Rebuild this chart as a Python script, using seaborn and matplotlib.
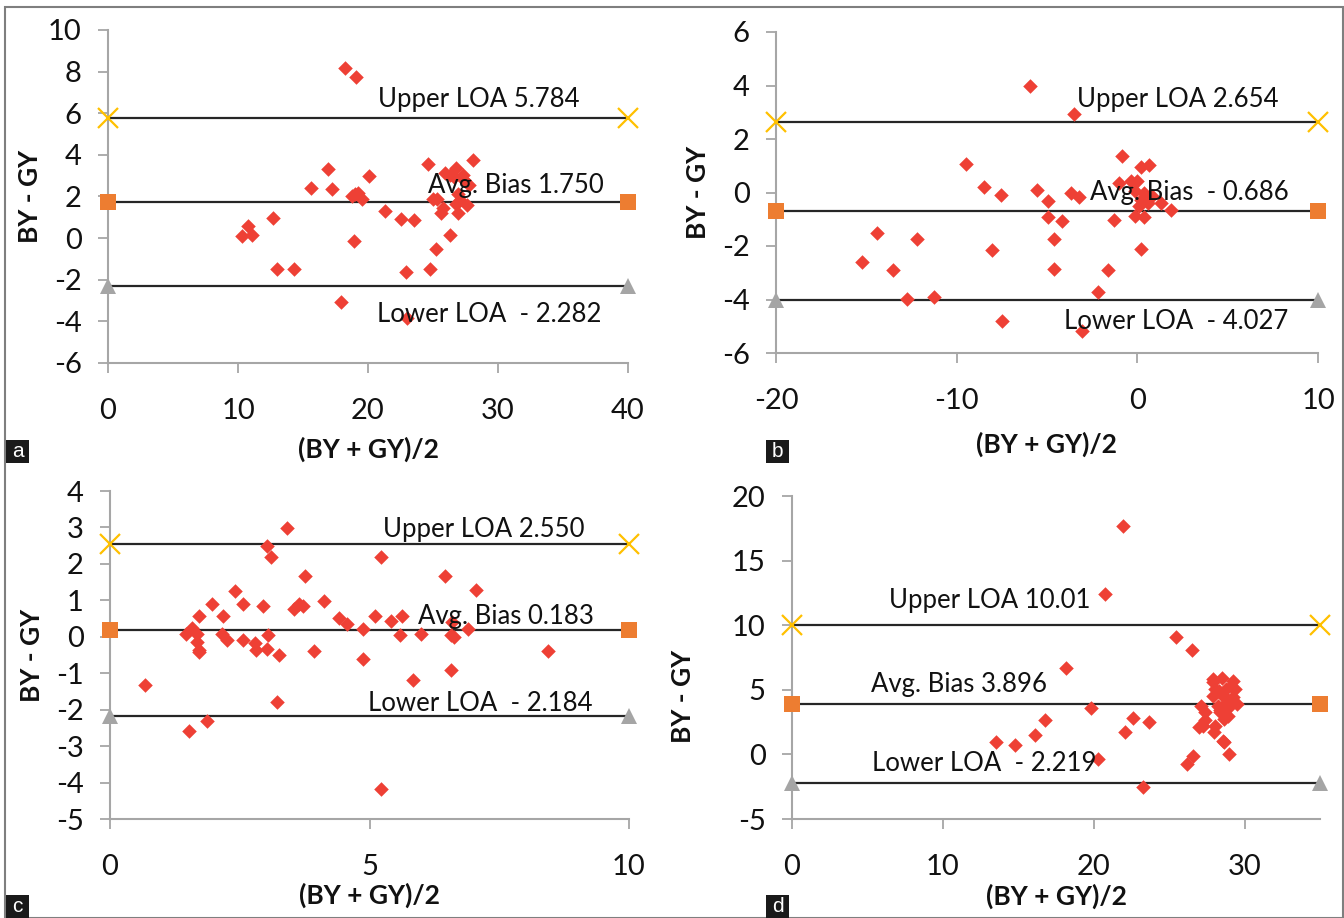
import numpy as np
import pandas as pd
import matplotlib
matplotlib.use("Agg")
import matplotlib.pyplot as plt
import seaborn as sns

# panel a
a_mean = [18.2, 19.1, 28.1, 24.6, 16.9, 26.8, 25.9, 26.3, 26.6, 27.3, 27.4, 27.8, 20.1, 15.6,
          17.2, 19.0, 19.2, 19.5, 18.8, 25.0, 25.3, 26.9, 27.1, 27.6, 26.8, 25.8, 25.6, 26.9,
          21.3, 22.5, 23.5, 12.7, 10.8, 10.3, 11.1, 26.3, 18.9, 25.2, 13.0, 14.3, 24.8, 22.9,
          17.9, 23.0]
a_diff = [8.16, 7.76, 3.76, 3.55, 3.31, 3.39, 3.12, 3.04, 2.96, 3.04, 2.8, 2.56, 2.99, 2.43,
          2.35, 2.11, 2.19, 1.87, 2.0, 1.87, 1.89, 2.1, 1.84, 1.57, 1.65, 1.44, 1.2, 1.2,
          1.28, 0.93, 0.88, 0.96, 0.56, 0.08, 0.13, 0.16, -0.14, -0.53, -1.47, -1.47, -1.47, -1.65,
          -3.06, -3.84]

# panel b
b_mean = [-5.94, -3.52, -9.47, -0.84, 0.18, 0.66, -1.01, -0.37, 0.0, -8.47, -7.57, -5.58, -4.94,
          -3.68, -3.21, -0.13, 0.35, 0.23, 0.58, 0.82, 1.29, 1.89, 0.11, -0.13, 0.35, -4.94, -4.16,
          -1.27, -14.43, -12.17, -4.59, -8.02, 0.18, -15.26, -13.55, -4.59, -1.62, -2.19, -12.74,
          -11.27, -7.48, -3.04]
b_diff = [3.99, 2.95, 1.07, 1.35, 0.95, 1.02, 0.36, 0.42, 0.44, 0.21, -0.11, 0.08, -0.33,
          -0.02, -0.18, 0.04, -0.02, -0.27, -0.39, -0.14, -0.39, -0.64, -0.52, -0.89, -0.92, -0.93, -1.08,
          -1.02, -1.51, -1.74, -1.74, -2.16, -2.11, -2.61, -2.91, -2.85, -2.91, -3.72, -3.98,
          -3.92, -4.82, -5.19]

# panel c
c_mean = [3.42, 3.02, 3.11, 5.23, 3.75, 6.45, 7.05, 2.40, 4.13, 1.96, 2.56, 2.94, 3.54, 3.64,
          3.72, 1.71, 2.18, 4.41, 5.11, 5.62, 5.41, 4.57, 4.88, 1.58, 6.90, 6.59, 1.46, 1.68,
          2.15, 3.05, 5.59, 5.99, 6.57, 6.62, 2.26, 2.56, 1.68, 2.80, 2.82, 3.03, 1.71, 1.72,
          3.94, 8.43, 3.25, 4.88, 6.57, 5.83, 0.67, 3.21, 1.86, 1.52, 5.23]
c_diff = [2.99, 2.49, 2.19, 2.19, 1.68, 1.68, 1.29, 1.25, 0.98, 0.89, 0.89, 0.84, 0.75, 0.89,
          0.84, 0.58, 0.58, 0.52, 0.58, 0.58, 0.43, 0.34, 0.2, 0.24, 0.2, 0.4, 0.08, 0.08,
          0.08, 0.05, 0.06, 0.08, 0.05, 0.0, -0.1, -0.1, -0.13, -0.17, -0.35, -0.33, -0.35, -0.42,
          -0.38, -0.38, -0.51, -0.61, -0.91, -1.18, -1.31, -1.80, -2.30, -2.58, -4.18]

# panel d
d_mean = [21.91, 20.78, 25.43, 26.51, 18.19, 27.93, 28.5, 29.2, 28.07, 28.78, 29.35, 27.93, 28.64,
          29.2, 29.5, 28.21, 28.92, 27.08, 27.36, 28.36, 28.92, 28.64, 19.81, 22.59, 23.67, 16.78,
          27.36, 27.22, 27.0, 28.07, 28.0, 22.06, 16.09, 13.54, 14.79, 28.56, 28.64, 29.0, 26.6,
          26.17, 20.27, 23.25, 28.3, 28.9, 29.1, 28.4, 27.9, 28.7]
d_diff = [17.68, 12.40, 9.05, 8.07, 6.68, 5.82, 5.95, 5.70, 5.05, 5.05, 5.05, 4.54, 4.41,
          4.41, 3.89, 3.76, 3.63, 3.76, 3.25, 3.25, 2.99, 2.73, 3.63, 2.81, 2.53, 2.65,
          2.65, 2.22, 2.09, 2.22, 1.70, 1.75, 1.49, 0.98, 0.75, 1.06, 0.93, 0.03, -0.10,
          -0.75, -0.36, -2.55, 4.9, 4.2, 5.3, 3.4, 5.6, 3.9]

panel_tags = ["a", "b", "c", "d"]
means = [a_mean, b_mean, c_mean, d_mean]
diffs = [a_diff, b_diff, c_diff, d_diff]
upper_loa = [5.784, 2.654, 2.550, 10.01]
avg_bias = [1.750, -0.686, 0.183, 3.896]
lower_loa = [-2.282, -4.027, -2.184, -2.219]
upper_txt = ["Upper LOA 5.784", "Upper LOA 2.654", "Upper LOA 2.550", "Upper LOA 10.01"]
bias_txt = ["Avg. Bias 1.750", "Avg. Bias  - 0.686", "Avg. Bias 0.183", "Avg. Bias 3.896"]
lower_txt = ["Lower LOA  - 2.282", "Lower LOA  - 4.027", "Lower LOA  - 2.184", "Lower LOA  - 2.219"]

x_lims = [(0, 40), (-20, 10), (0, 10), (0, 35)]
x_ticks = [[0, 10, 20, 30, 40], [-20, -10, 0, 10], [0, 5, 10], [0, 10, 20, 30]]
y_lims = [(-6, 10), (-6, 6), (-5, 4), (-5, 20)]
y_ticks = [np.arange(-6, 11, 2), np.arange(-6, 7, 2), np.arange(-5, 5, 1), np.arange(-5, 21, 5)]

# label positions (data coords: left edge, vertical centre)
upper_pos = [(20.8, 6.64), (-3.33, 3.47), (5.26, 2.94), (6.44, 11.88)]
bias_pos = [(24.6, 2.53), (-2.62, 0.0), (5.93, 0.57), (5.25, 5.44)]
lower_pos = [(20.7, -3.68), (-4.04, -4.82), (4.97, -1.82), (5.31, -0.67)]

sns.set_style("white")
plt.rcParams['font.family'] = ['Lato', 'DejaVu Sans']
plt.rcParams['axes.unicode_minus'] = False

fig = plt.figure(figsize=(13.44, 9.18), dpi=100)
W, H = 1344, 918
# axes boxes in pixels: left, right, top, bottom
boxes = [(108, 628, 30, 363), (776, 1318, 32, 353), (110, 629, 491, 819), (792, 1320, 496, 819)]
ylab_off = [66, 66, 66, 97]
xlab_off = [74, 79, 64, 65]
ylab_y = [0.5, 0.5, 0.5, 0.38]

grey = "#a6a6a6"
for i in range(4):
    l, r, t, b = boxes[i]
    ax = fig.add_axes([l / W, 1 - b / H, (r - l) / W, (b - t) / H])
    df = pd.DataFrame({"mean": means[i], "diff": diffs[i]})
    sns.scatterplot(data=df, x="mean", y="diff", marker="D", s=55, color="#ee4035",
                    linewidth=0, ax=ax, zorder=3)
    x0, x1 = x_lims[i]
    for val, mk, col, ms, mew in [(upper_loa[i], "x", "#ffc000", 15, 1.6),
                                  (avg_bias[i], "s", "#ed7d31", 12, 0),
                                  (lower_loa[i], "^", "#a5a5a5", 12, 0)]:
        ax.plot([x0, x1], [val, val], color="#262626", lw=1.6, zorder=2)
        ax.plot([x0, x1], [val, val], linestyle="none", marker=mk, color=col, ms=ms,
                mew=mew, clip_on=False, zorder=4)
    for txt, pos in zip([upper_txt[i], bias_txt[i], lower_txt[i]],
                        [upper_pos[i], bias_pos[i], lower_pos[i]]):
        ax.text(pos[0], pos[1], txt, ha="left", va="center", fontsize=18.5, color="#111111", zorder=5)
    ax.set_xlim(x0, x1)
    ax.set_ylim(*y_lims[i])
    ax.set_xticks(x_ticks[i])
    ax.set_yticks(y_ticks[i])
    ax.tick_params(axis="x", pad=18)
    ax.tick_params(axis="y", pad=12)
    ax.tick_params(axis="both", length=7, width=1.3, color=grey, labelsize=21,
                   labelcolor="#111111", direction="out", left=True, bottom=True)
    for s in ["top", "right"]:
        ax.spines[s].set_visible(False)
    for s in ["left", "bottom"]:
        ax.spines[s].set_color(grey)
        ax.spines[s].set_linewidth(1.5)
    ax.set_xlabel("(BY + GY)/2", fontsize=19, fontweight="bold", color="#111111")
    ax.set_ylabel("BY - GY", fontsize=19, fontweight="bold", color="#111111")
    ax.xaxis.set_label_coords(0.5, -xlab_off[i] / (b - t))
    ax.yaxis.set_label_coords(-ylab_off[i] / (r - l), ylab_y[i])
    ax.patch.set_alpha(0)

# outer frame and panel letters
frame = plt.Rectangle((5 / W, 0), (1343 - 5) / W, 1 - 7 / H, transform=fig.transFigure,
                      fill=False, edgecolor="#7f7f7f", lw=1.5)
fig.add_artist(frame)
tag_xy = [(6, 463), (766, 463), (6, 918), (766, 918)]
for tag, (tx, ty) in zip(panel_tags, tag_xy):
    fig.add_artist(plt.Rectangle((tx / W, 1 - ty / H), 23 / W, 23 / H, transform=fig.transFigure,
                                 facecolor="#1a1a1a", edgecolor="none"))
    fig.text((tx + 11.5) / W, 1 - (ty - 11.5) / H, tag, color="white", fontsize=15,
             ha="center", va="center", family=["Liberation Sans", "DejaVu Sans"])

fig.savefig("out.png", dpi=100)
